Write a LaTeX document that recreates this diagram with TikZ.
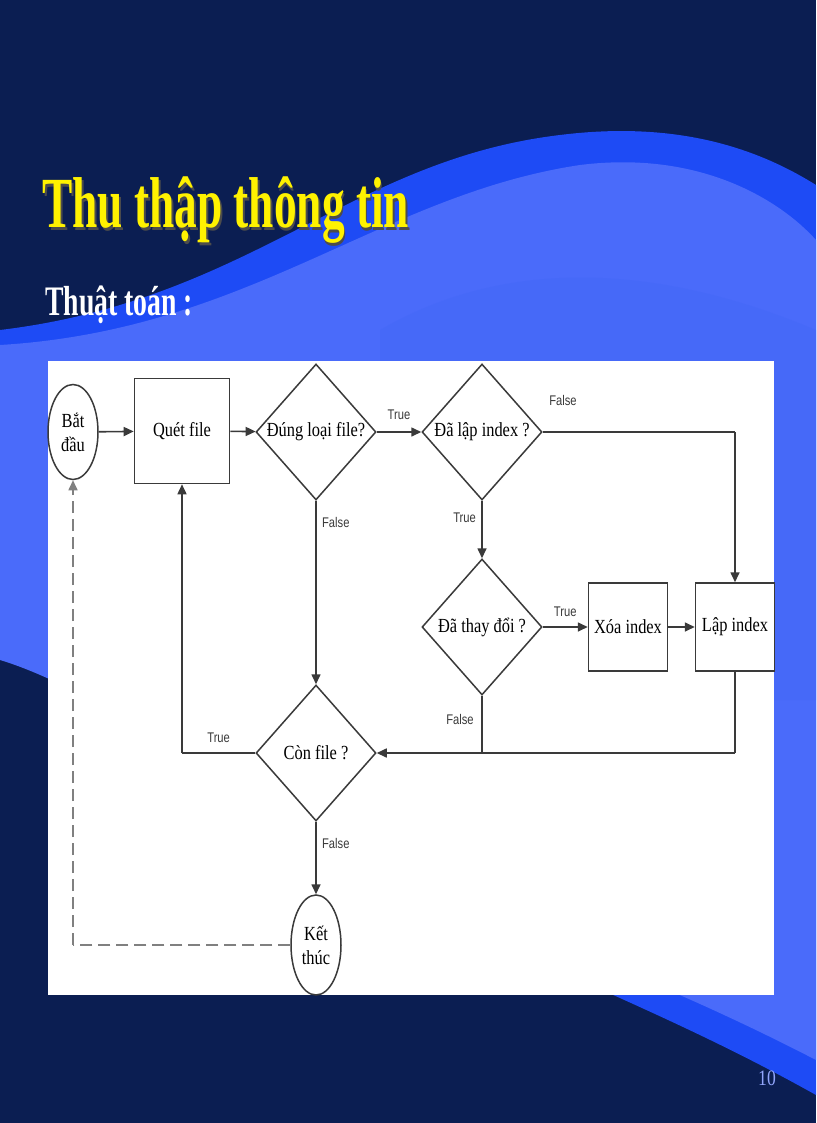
\documentclass[tikz,border=0pt]{standalone}
\usepackage{fontspec}
\setmainfont{Liberation Serif}
\newfontfamily\lblfont{Liberation Sans}
\usetikzlibrary{shapes.geometric,arrows.meta}
\definecolor{navy}{HTML}{0B1E52}
\definecolor{bblue}{HTML}{1E4BF5}
\definecolor{lblue}{HTML}{4A6BFA}
\definecolor{lnk}{HTML}{3A3A3A}
\newcommand{\cx}[1]{\scalebox{0.82}[1]{#1}}
\newcommand{\lx}[1]{\scalebox{0.8}[1]{#1}}
\tikzset{
 box/.style={draw=lnk,line width=1.6pt,minimum width=95pt,minimum height=105pt,font=\fontsize{20}{22}\selectfont,inner sep=0pt},
 sbox/.style={draw=lnk,line width=1.5pt,minimum width=79pt,minimum height=88pt,font=\fontsize{20}{22}\selectfont,inner sep=0pt},
 dec/.style={draw=lnk,line width=1.5pt,diamond,minimum width=120pt,minimum height=136pt,inner sep=0pt,font=\fontsize{20}{22}\selectfont},
 term/.style={draw=lnk,line width=1.5pt,ellipse,minimum width=50pt,inner sep=0pt,align=center,font=\fontsize{20}{24}\selectfont},
 arr/.style={draw=lnk,line width=1.6pt,-{Triangle[length=10pt,width=9pt]}},
 ln/.style={draw=lnk,line width=1.5pt},
 lbl/.style={font=\lblfont\fontsize{14}{15}\selectfont,text=lnk}
}
\begin{document}
\begin{tikzpicture}[x=1pt,y=-1pt]
\useasboundingbox (0,0) rectangle (816,1123);
\fill[navy] (0,0) rectangle (816,1123);
% wave
\fill[bblue] (0,330) .. controls (250,300) and (350,160) .. (560,135) .. controls (680,120) and (760,150) .. (816,185)
 -- (816,1095) .. controls (700,1030) and (600,990) .. (400,900) .. controls (250,820) and (100,700) .. (0,640) -- cycle;
\fill[lblue] (0,345) .. controls (250,330) and (380,195) .. (580,165) .. controls (700,150) and (780,200) .. (816,240)
 -- (816,1060) .. controls (700,1000) and (600,960) .. (400,880) .. controls (250,800) and (100,690) .. (0,660) -- cycle;
\fill[bblue!85!white,opacity=0.35] (380,330) .. controls (500,260) and (650,260) .. (816,330) -- (816,700) -- (380,700) -- cycle;
% titles
\node[anchor=base west,text=yellow,font=\bfseries\fontsize{72}{80}\selectfont,inner sep=0,
  path picture={}] (title) at (42,228) {\scalebox{0.63}[1]{\textcolor{black!70}{\rlap{\kern3pt\raisebox{-3pt}{Thu thập thông tin}}}Thu thập thông tin}};
\node[anchor=base west,text=white,font=\bfseries\fontsize{42}{50}\selectfont,inner sep=0] (sub) at (45,315) {\scalebox{0.66}[1]{Thuật toán :}};
\node[anchor=base east,text=lblue!60!white,font=\fontsize{22}{24}\selectfont,inner sep=0] (pg) at (776,1085) {\lx{10}};
% panel
\fill[white] (48,361) rectangle (774,995);
% nodes
\node[term,minimum height=95pt] (start) at (73,432) {\cx{Bắt}\\\cx{đầu}};
\node[box] (scan) at (182,431) {\cx{Quét file}};
\node[dec] (type) at (316,432) {\cx{Đúng loại file?}};
\node[dec] (idx) at (482,432) {\cx{Đã lập index ?}};
\node[dec] (chg) at (482,627) {\cx{Đã thay đổi ?}};
\node[sbox] (del) at (628,627) {\cx{Xóa index}};
\node[sbox] (mk) at (735,627) {\cx{Lập index}};
\node[dec] (more) at (316,753) {\cx{Còn file ?}};
\node[term,minimum height=100pt] (end) at (316,945) {\cx{Kết}\\\cx{thúc}};
\coordinate (c1) at (735,432);
\coordinate (c2) at (735,753);
\coordinate (c3) at (482,753);
\coordinate (c4) at (182,753);
\coordinate (c5) at (73,945);
% connectors
\draw[arr] (start) -- (scan);
\draw[arr] (scan) -- (type);
\draw[arr] (type) -- node[lbl,above=8pt] {\lx{True}} (idx);
\draw[arr] (type) -- node[lbl,right=2pt,pos=0.12] {\lx{False}} (more);
\draw[ln] (idx.east) -- (c1);
\draw[arr] (c1) -- (mk.north);
\node[lbl] at (563,400) {\lx{False}};
\draw[arr] (idx) -- node[lbl,left=2pt,pos=0.3] {\lx{True}} (chg);
\draw[arr] (chg) -- node[lbl,above=6pt] {\lx{True}} (del);
\draw[arr] (del) -- (mk);
\draw[ln] (mk.south) -- (c2);
\draw[arr] (c2) -- (more.east);
\draw[ln] (chg.south) -- (c3);
\node[lbl] at (460,719) {\lx{False}};
\draw[ln] (more.west) -- node[lbl,above=6pt] {\lx{True}} (c4);
\draw[arr] (c4) -- (scan.south);
\draw[arr] (more) -- node[lbl,right=2pt,pos=0.3] {\lx{False}} (end);
\draw[ln,dash pattern=on 12pt off 6pt,draw=gray] (end.west) -- (c5);
\draw[arr,dash pattern=on 12pt off 6pt,draw=gray] (c5) -- (start.south);
\end{tikzpicture}
\end{document}
